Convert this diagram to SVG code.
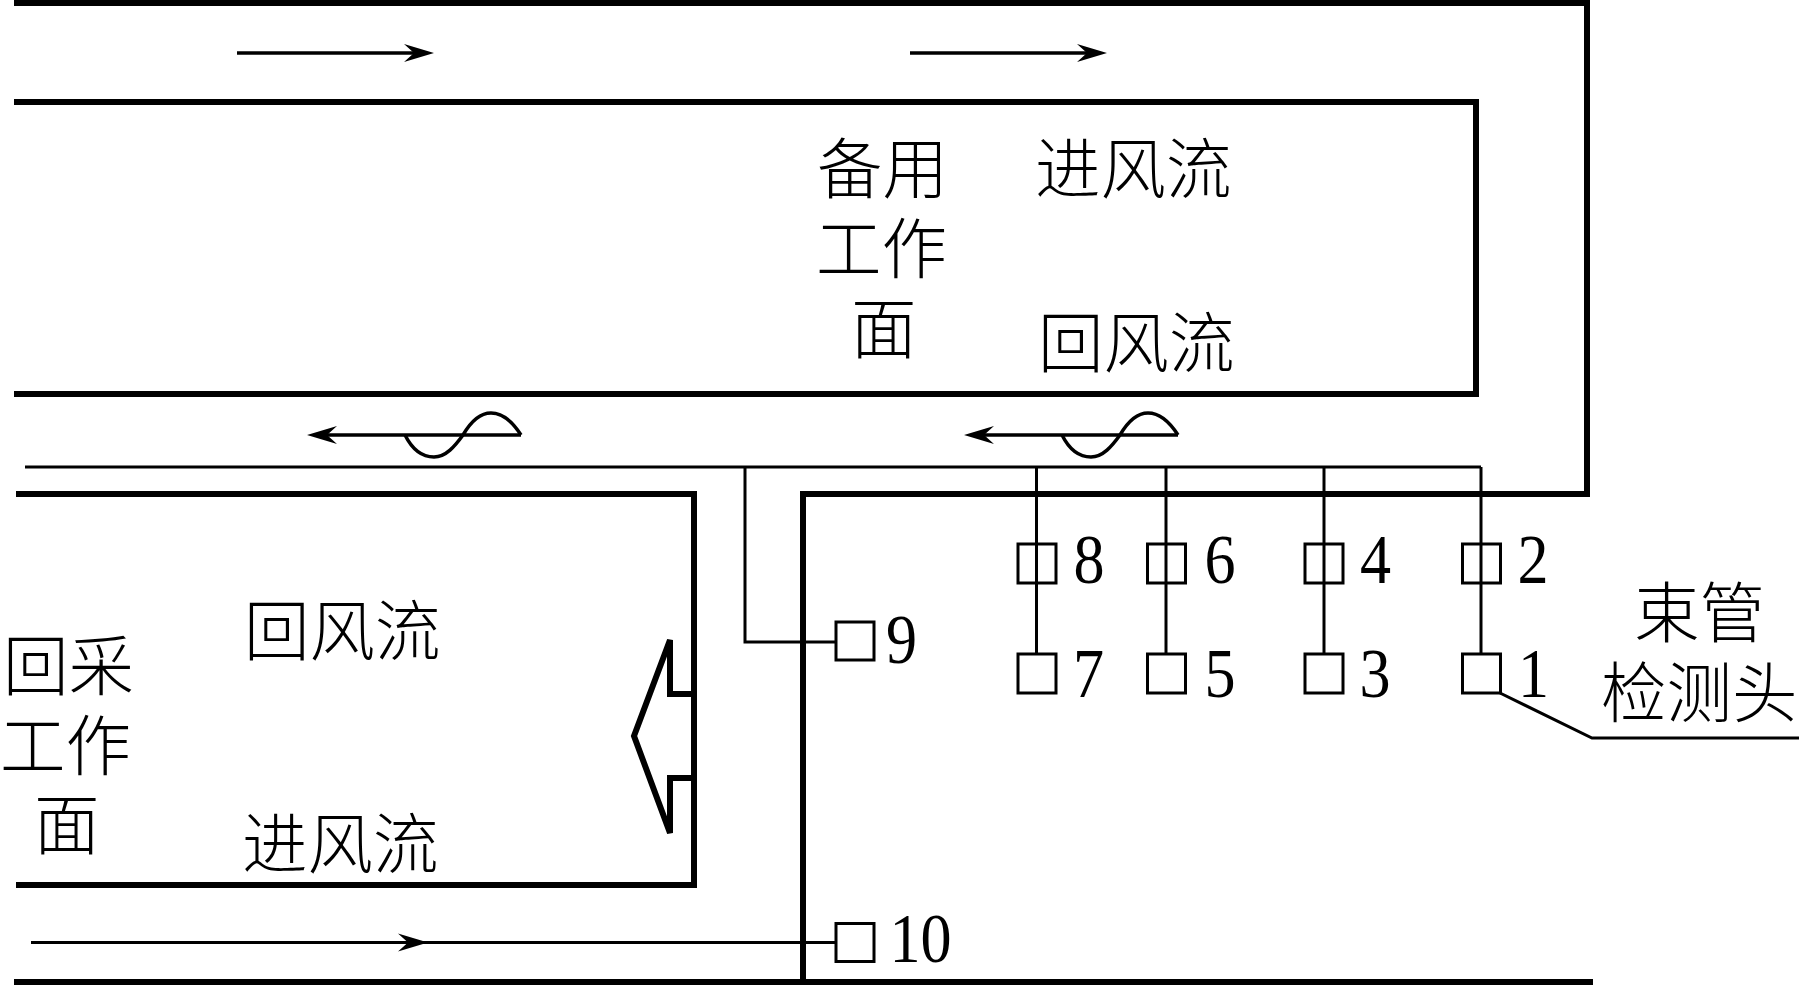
<svg xmlns="http://www.w3.org/2000/svg" xmlns:xlink="http://www.w3.org/1999/xlink" width="1799" height="985" viewBox="0 0 1799 985">
<style>
.wall{fill:none;stroke:#000;stroke-width:6;stroke-linejoin:miter}
.thin{fill:none;stroke:#000;stroke-width:3}
.flow{fill:none;stroke:#000;stroke-width:3.5}
.box{fill:none;stroke:#000;stroke-width:3}
.cn{font-family:"Noto Sans CJK SC","Noto Sans CJK JP",sans-serif;font-size:65.5px;font-weight:300;fill:#000}
.num{font-family:"Liberation Serif","Times New Roman",serif;font-size:69px;fill:#000}
</style>
<defs>
<path id="ah" d="M0,0L-30,-9L-20,0L-30,9Z" fill="#000"/>
<path id="wave" d="M0,0C7,14 17,22 29,22C41,22 50,11 58,0C65,-12 75,-22 86,-22C98,-22 107,-14 116,0" fill="none" stroke="#000" stroke-width="3.5"/>
</defs>
<rect width="1799" height="985" fill="#fff"/>
<g id="walls">
<path class="wall" d="M14,3H1587V494H803V985"/>
<path class="wall" d="M14,102H1476V394H14"/>
<path class="wall" d="M16,494H694V885H16"/>
<path class="wall" d="M14,982H1593"/>
<path class="wall" d="M694,694H670V640L634,736L670,833V778H694"/>
</g>
<g id="connectors">
<path class="thin" d="M25,467H1481"/>
<path class="thin" d="M745,467V642H836"/>
<path class="thin" d="M1036.5,467V654"/>
<path class="thin" d="M1166,467V654"/>
<path class="thin" d="M1324,467V654"/>
<path class="thin" d="M1481,467V654"/>
<path class="thin" d="M1500,693L1592,738H1799"/>
<path class="thin" d="M31,942.5H836"/>
<use xlink:href="#ah" href="#ah" transform="translate(428,942.5)"/>
<path class="flow" d="M237,53H415"/>
<use xlink:href="#ah" href="#ah" transform="translate(434,53)"/>
<path class="flow" d="M910,53H1088"/>
<use xlink:href="#ah" href="#ah" transform="translate(1107,53)"/>
<path class="flow" d="M325,435H521"/>
<use xlink:href="#ah" href="#ah" transform="translate(307,435) rotate(180)"/>
<use xlink:href="#wave" href="#wave" transform="translate(405,435)"/>
<path class="flow" d="M982,435H1178"/>
<use xlink:href="#ah" href="#ah" transform="translate(964,435) rotate(180)"/>
<use xlink:href="#wave" href="#wave" transform="translate(1062,435)"/>
</g>
<g id="node-1"><rect class="box" x="1462.5" y="654" width="38" height="39"/><text class="num" transform="translate(1518,697) scale(.9,1)">1</text></g>
<g id="node-2"><rect class="box" x="1462.5" y="544" width="38" height="39"/><text class="num" transform="translate(1517.5,583) scale(.9,1)">2</text></g>
<g id="node-3"><rect class="box" x="1305" y="654" width="38" height="39"/><text class="num" transform="translate(1359.5,697) scale(.9,1)">3</text></g>
<g id="node-4"><rect class="box" x="1305" y="544" width="38" height="39"/><text class="num" transform="translate(1360,583) scale(.9,1)">4</text></g>
<g id="node-5"><rect class="box" x="1147.5" y="654" width="38" height="39"/><text class="num" transform="translate(1204.5,697) scale(.9,1)">5</text></g>
<g id="node-6"><rect class="box" x="1147.5" y="544" width="38" height="39"/><text class="num" transform="translate(1204.5,583) scale(.9,1)">6</text></g>
<g id="node-7"><rect class="box" x="1018" y="654" width="38" height="39"/><text class="num" transform="translate(1073,697) scale(.9,1)">7</text></g>
<g id="node-8"><rect class="box" x="1018" y="544" width="38" height="39"/><text class="num" transform="translate(1073.5,583) scale(.9,1)">8</text></g>
<g id="node-9"><rect class="box" x="836" y="622" width="38" height="38"/><text class="num" transform="translate(886,663) scale(.9,1)">9</text></g>
<g id="node-10"><rect class="box" x="836" y="923.5" width="38" height="38"/><text class="num" transform="translate(889.5,962) scale(.9,1)">10</text></g>
<g id="labels">
<text class="cn" x="1035" y="193">进风流</text>
<text class="cn" x="1038" y="367">回风流</text>
<text class="cn" x="817" y="193">备用</text>
<text class="cn" x="816" y="273">工作</text>
<text class="cn" x="851" y="353">面</text>
<text class="cn" x="244" y="655">回风流</text>
<text class="cn" x="242" y="868">进风流</text>
<text class="cn" x="3" y="690">回采</text>
<text class="cn" x="0" y="770">工作</text>
<text class="cn" x="34" y="849">面</text>
<text class="cn" x="1634" y="637">束管</text>
<text class="cn" x="1601" y="717">检测头</text>
</g>
</svg>
